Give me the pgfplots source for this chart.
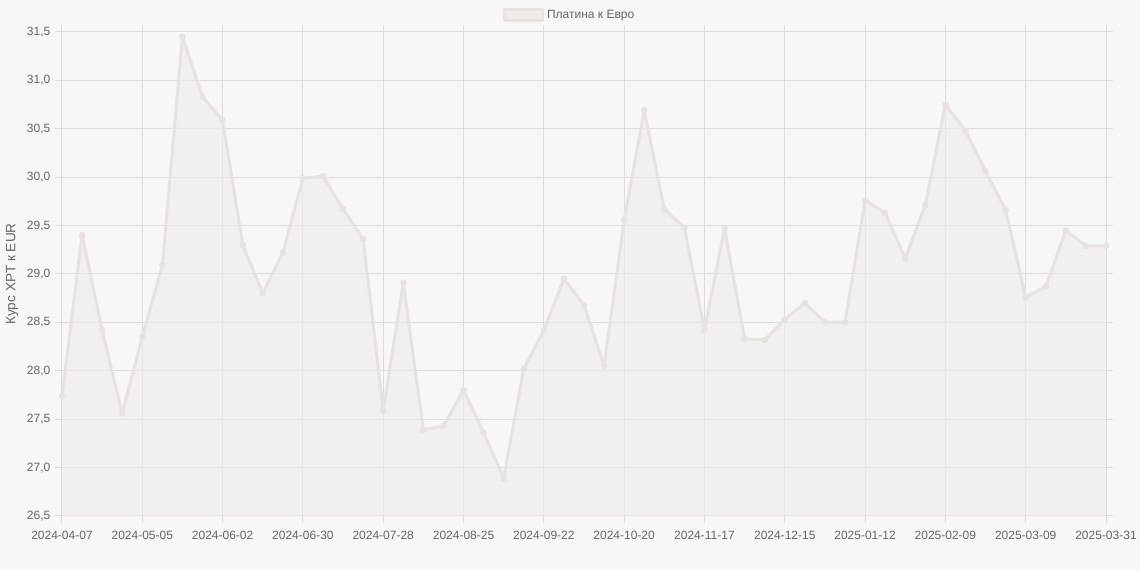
\documentclass[border=0pt]{standalone}
\usepackage{pgfplots}
\pgfplotsset{compat=1.18}
\usepackage{fontspec}
\setmainfont{Liberation Sans}
\definecolor{bgc}{HTML}{F7F7F7}
\definecolor{gridc}{HTML}{DCDCDC}
\definecolor{axisc}{HTML}{CFCFCF}
\definecolor{linec}{HTML}{E6E2E2}
\definecolor{fillc}{HTML}{EEEBEB}
\definecolor{tickc}{HTML}{666666}
\pgfplotstableread{
x y
0 27.74
1 29.40
2 28.42
3 27.56
4 28.35
5 29.09
6 31.45
7 30.83
8 30.59
9 29.30
10 28.80
11 29.22
12 29.99
13 30.01
14 29.67
15 29.36
16 27.59
17 28.91
18 27.39
19 27.43
20 27.80
21 27.36
22 26.89
23 28.02
24 28.42
25 28.95
26 28.68
27 28.05
28 29.56
29 30.69
30 29.67
31 29.48
32 28.42
33 29.47
34 28.33
35 28.32
36 28.53
37 28.70
38 28.50
39 28.50
40 29.76
41 29.63
42 29.16
43 29.71
44 30.75
45 30.48
46 30.06
47 29.66
48 28.76
49 28.87
50 29.45
51 29.29
52 29.29
}\datatable
\begin{document}
\begin{tikzpicture}
\fill[bgc] (-46.5pt,-40.5pt) rectangle (808.5pt,387pt);
\useasboundingbox (-46.5pt,-40.5pt) rectangle (808.5pt,387pt);
\begin{axis}[
  at={(0,0)}, anchor=south west,
  scale only axis, width=783pt, height=363pt,
  xmin=0, xmax=52, ymin=26.5, ymax=31.5,
  xtick={0,4,...,52},
  xticklabels={2024-04-07,2024-05-05,2024-06-02,2024-06-30,2024-07-28,2024-08-25,2024-09-22,2024-10-20,2024-11-17,2024-12-15,2025-01-12,2025-02-09,2025-03-09,2025-03-31},
  ytick={26.5,27,27.5,28,28.5,29,29.5,30,30.5,31,31.5},
  /pgf/number format/assume math mode=true,
  yticklabel style={/pgf/number format/.cd, fixed, fixed zerofill, precision=1, use comma},
  xticklabel style={yshift=-2.25pt},
  ticklabel style={font=\fontsize{9}{11}\selectfont, text=tickc},
  grid=major,
  grid style={draw=gridc, line width=0.75pt},
  axis line style={draw=gridc, line width=0.75pt},
  tick align=outside,
  major tick length=5.25pt,
  tick style={draw=gridc, line width=0.75pt},
  ylabel={Курс XPT к EUR},
  ylabel style={at={(axis description cs:-0.0479,0.5)}, anchor=center, font=\fontsize{10.2}{12}\selectfont, text=tickc},
  clip mode=individual,
  legend style={at={(axis description cs:0.4866,1)}, anchor=center, yshift=12.75pt, draw=none, fill=none, font=\fontsize{9}{11}\selectfont, text=tickc},
  legend image code/.code={\draw[draw=linec, fill=fillc, line width=2pt] (0pt,-4pt) rectangle (29pt,4pt);},
]
\addplot[draw=none, fill=fillc, fill opacity=0.6, forget plot] table[x=x,y=y] {\datatable} \closedcycle;
\addplot[draw=linec, line width=2.25pt, line join=round, mark=*, mark size=2.2pt, mark options={draw=linec, fill=linec, line width=0.5pt}] table[x=x,y=y] {\datatable};
\addlegendentry{Платина к Евро}
\end{axis}
\end{tikzpicture}
\end{document}
